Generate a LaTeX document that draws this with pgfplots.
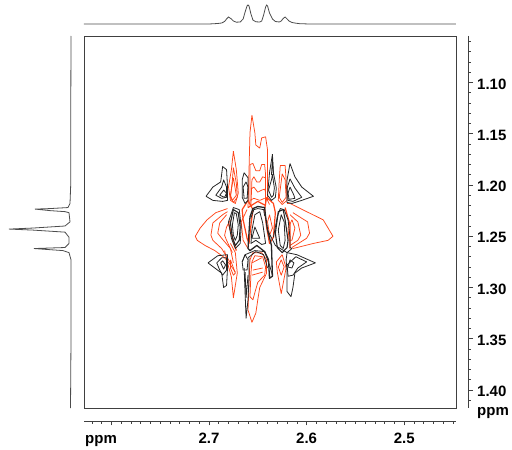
\documentclass[border=0pt]{standalone}
\usepackage{fontspec}
\setmainfont{Liberation Sans}
\usepackage{pgfplots}
\pgfplotsset{compat=1.18}
\definecolor{fr}{gray}{0.25}
\definecolor{cr}{rgb}{1,0.27,0.1}
\tikzset{cb/.style={color=black!85,line width=0.8pt,line join=round},
         crr/.style={color=cr,line width=0.75pt,line join=round}}
\newcommand{\lab}{\fontsize{15}{18}\selectfont\bfseries}
\begin{document}
\begin{tikzpicture}[x=1pt,y=1pt]
\useasboundingbox (0,0) rectangle (512,450);
% main contour axis
\begin{axis}[at={(84pt,42pt)},anchor=south west,scale only axis,width=372pt,height=372pt,
  x dir=reverse,y dir=reverse,xmin=2.447,xmax=2.828,ymin=1.0546,ymax=1.4176,
  xtick=\empty,ytick=\empty,axis line style={color=fr,line width=0.8pt},clip=true]
% red contours
\addplot[crr] coordinates {(2.660,1.222)(2.658,1.149)(2.656,1.132)(2.653,1.149)(2.652,1.161)(2.648,1.164)(2.646,1.154)(2.642,1.153)(2.640,1.166)(2.640,1.215)(2.638,1.219)};
\addplot[crr,line width=1.2pt] coordinates {(2.660,1.222)(2.650,1.216)(2.642,1.220)};
\addplot[crr] coordinates {(2.658,1.220)(2.658,1.180)(2.655,1.179)(2.652,1.186)(2.648,1.186)(2.646,1.180)(2.643,1.180)(2.642,1.190)(2.642,1.220)};
\addplot[crr] coordinates {(2.657,1.220)(2.656,1.195)(2.654,1.192)(2.651,1.197)(2.648,1.197)(2.645,1.192)(2.642,1.193)};
\addplot[crr] coordinates {(2.657,1.204)(2.654,1.202)(2.650,1.207)(2.646,1.205)(2.643,1.204)(2.642,1.207)};
\addplot[crr] coordinates {(2.658,1.215)(2.654,1.213)(2.648,1.215)(2.643,1.213)};
\addplot[crr] coordinates {(2.675,1.167)(2.672,1.185)(2.670,1.208)(2.673,1.218)(2.678,1.215)(2.680,1.202)(2.677,1.185)(2.675,1.167)};
\addplot[crr] coordinates {(2.675,1.183)(2.672,1.198)(2.671,1.212)(2.675,1.217)(2.678,1.212)(2.676,1.195)(2.675,1.183)};
\addplot[crr] coordinates {(2.675,1.193)(2.672,1.210)(2.676,1.215)(2.678,1.210)(2.675,1.193)};
\addplot[crr] coordinates {(2.627,1.181)(2.622,1.181)(2.621,1.195)(2.620,1.215)(2.625,1.219)(2.629,1.215)(2.628,1.195)(2.627,1.181)};
\addplot[crr] coordinates {(2.625,1.189)(2.622,1.195)(2.621,1.212)(2.625,1.217)(2.628,1.212)(2.625,1.189)};
\addplot[crr] coordinates {(2.678,1.257)(2.673,1.266)(2.671,1.286)(2.675,1.310)(2.677,1.290)(2.681,1.276)(2.684,1.264)};
\addplot[crr] coordinates {(2.678,1.273)(2.673,1.286)(2.675,1.288)(2.678,1.281)(2.678,1.273)};
\addplot[crr] coordinates {(2.625,1.268)(2.621,1.281)(2.626,1.306)(2.630,1.285)(2.631,1.275)(2.625,1.268)};
\addplot[crr] coordinates {(2.626,1.273)(2.623,1.280)(2.626,1.288)(2.629,1.280)(2.626,1.273)};
\addplot[crr] coordinates {(2.658,1.273)(2.655,1.266)(2.646,1.266)(2.641,1.273)(2.641,1.286)(2.648,1.300)(2.650,1.312)(2.652,1.325)(2.656,1.334)(2.660,1.322)(2.659,1.296)(2.658,1.273)};
\addplot[crr] coordinates {(2.656,1.275)(2.653,1.269)(2.645,1.270)(2.642,1.280)(2.643,1.288)(2.650,1.295)(2.653,1.305)(2.655,1.312)(2.658,1.309)(2.657,1.286)(2.656,1.275)};
\addplot[crr] coordinates {(2.655,1.283)(2.645,1.281)};
\addplot[crr] coordinates {(2.656,1.288)(2.645,1.285)};
\addplot[crr] coordinates {(2.656,1.276)(2.646,1.271)};
\addplot[crr] coordinates {(2.673,1.285)(2.678,1.278)(2.684,1.271)(2.694,1.264)(2.704,1.259)(2.712,1.254)(2.714,1.250)(2.709,1.242)(2.702,1.234)(2.693,1.227)(2.681,1.223)};
\addplot[crr] coordinates {(2.678,1.276)(2.687,1.262)(2.696,1.254)(2.698,1.249)(2.696,1.237)(2.686,1.229)(2.681,1.226)};
\addplot[crr] coordinates {(2.675,1.276)(2.678,1.262)(2.687,1.252)(2.691,1.247)(2.689,1.237)(2.682,1.229)};
\addplot[crr] coordinates {(2.676,1.266)(2.682,1.254)(2.684,1.249)(2.682,1.241)(2.678,1.234)};
\addplot[crr] coordinates {(2.620,1.218)(2.617,1.218)(2.583,1.234)(2.573,1.250)(2.578,1.254)(2.593,1.257)(2.614,1.262)};
\addplot[crr] coordinates {(2.614,1.227)(2.599,1.236)(2.597,1.247)(2.600,1.252)(2.615,1.261)};
\addplot[crr] coordinates {(2.617,1.229)(2.609,1.236)(2.606,1.249)(2.609,1.254)(2.617,1.259)};
\addplot[crr] coordinates {(2.615,1.234)(2.612,1.242)(2.615,1.254)(2.618,1.254)(2.619,1.242)(2.615,1.234)};
\addplot[crr,line width=1.2pt] coordinates {(2.666,1.224)(2.665,1.234)(2.661,1.252)(2.659,1.257)(2.657,1.239)(2.655,1.224)(2.660,1.215)(2.666,1.224)};
\addplot[crr] coordinates {(2.661,1.224)(2.667,1.236)(2.665,1.254)(2.660,1.262)};
\addplot[crr,line width=1.2pt] coordinates {(2.680,1.237)(2.676,1.252)(2.672,1.264)};
\addplot[crr,line width=1.2pt] coordinates {(2.641,1.212)(2.634,1.218)(2.632,1.227)(2.634,1.251)(2.638,1.257)(2.641,1.241)(2.643,1.224)(2.641,1.212)};
\addplot[crr] coordinates {(2.638,1.229)(2.635,1.242)(2.638,1.249)(2.640,1.236)(2.638,1.229)};
\addplot[crr,line width=1.2pt] coordinates {(2.622,1.222)(2.617,1.239)(2.617,1.262)};
% black contours
\addplot[cb] coordinates {(2.703,1.211)(2.696,1.202)(2.688,1.197)(2.686,1.182)(2.682,1.185)(2.681,1.202)(2.681,1.215)(2.686,1.216)(2.696,1.215)(2.703,1.211)};
\addplot[cb] coordinates {(2.693,1.210)(2.687,1.202)(2.685,1.195)(2.682,1.202)(2.682,1.212)(2.687,1.213)(2.693,1.210)};
\addplot[cb] coordinates {(2.689,1.210)(2.685,1.205)(2.682,1.208)(2.684,1.212)(2.689,1.210)};
\addplot[cb] coordinates {(2.617,1.179)(2.612,1.192)(2.605,1.202)(2.593,1.211)(2.605,1.215)(2.615,1.218)(2.620,1.217)(2.620,1.195)(2.617,1.179)};
\addplot[cb] coordinates {(2.617,1.194)(2.612,1.203)(2.605,1.212)(2.614,1.216)(2.619,1.215)(2.620,1.203)(2.617,1.194)};
\addplot[cb] coordinates {(2.617,1.202)(2.613,1.210)(2.612,1.213)(2.618,1.214)(2.619,1.208)(2.617,1.202)};
\addplot[cb] coordinates {(2.664,1.188)(2.660,1.193)(2.660,1.215)(2.663,1.218)(2.666,1.212)(2.666,1.195)(2.664,1.188)};
\addplot[cb] coordinates {(2.662,1.197)(2.660,1.202)(2.661,1.213)(2.664,1.213)(2.665,1.202)(2.662,1.197)};
\addplot[cb] coordinates {(2.635,1.170)(2.634,1.188)(2.631,1.203)(2.632,1.212)(2.636,1.215)(2.640,1.210)(2.638,1.188)(2.635,1.170)};
\addplot[cb] coordinates {(2.635,1.190)(2.633,1.203)(2.634,1.210)(2.636,1.212)(2.639,1.205)(2.636,1.195)(2.635,1.190)};
\addplot[cb] coordinates {(2.635,1.175)(2.634,1.190)(2.636,1.190)(2.635,1.175)};
\addplot[cb,line width=1.1pt] coordinates {(2.678,1.237)(2.676,1.251)(2.673,1.259)(2.669,1.254)(2.668,1.241)(2.670,1.227)(2.675,1.224)(2.678,1.237)};
\addplot[cb] coordinates {(2.676,1.239)(2.675,1.249)(2.673,1.254)(2.671,1.249)(2.670,1.239)(2.672,1.228)(2.674,1.227)(2.676,1.239)};
\addplot[cb] coordinates {(2.680,1.236)(2.677,1.252)(2.673,1.262)(2.668,1.257)(2.667,1.241)(2.669,1.224)(2.675,1.222)(2.680,1.236)};
\addplot[cb,line width=1.1pt] coordinates {(2.632,1.247)(2.630,1.261)(2.625,1.266)(2.620,1.261)(2.619,1.254)(2.622,1.234)(2.624,1.224)(2.629,1.226)(2.632,1.247)};
\addplot[cb] coordinates {(2.629,1.244)(2.627,1.259)(2.624,1.262)(2.622,1.254)(2.623,1.236)(2.626,1.229)(2.629,1.244)};
\addplot[cb] coordinates {(2.634,1.251)(2.630,1.231)(2.627,1.223)(2.623,1.224)(2.619,1.234)(2.617,1.251)(2.617,1.261)(2.615,1.262)(2.620,1.266)(2.632,1.259)(2.640,1.244)};
\addplot[cb,line width=1.3pt] coordinates {(2.660,1.262)(2.658,1.231)(2.655,1.223)(2.650,1.221)(2.643,1.222)(2.642,1.231)(2.640,1.244)(2.636,1.259)(2.635,1.289)(2.638,1.291)(2.639,1.273)(2.643,1.265)(2.651,1.259)(2.658,1.264)(2.660,1.262)};
\addplot[cb] coordinates {(2.656,1.244)(2.653,1.229)(2.648,1.226)(2.645,1.237)(2.642,1.257)(2.646,1.258)(2.652,1.254)(2.657,1.257)(2.656,1.244)};
\addplot[cb] coordinates {(2.656,1.252)(2.653,1.241)(2.648,1.252)(2.656,1.252)};
\addplot[cb] coordinates {(2.657,1.232)(2.654,1.224)(2.650,1.223)(2.644,1.224)(2.643,1.230)};
\addplot[cb] coordinates {(2.666,1.275)(2.663,1.268)(2.653,1.264)(2.643,1.265)(2.638,1.278)(2.635,1.288)};
\addplot[cb] coordinates {(2.660,1.271)(2.652,1.265)(2.644,1.268)(2.640,1.281)};
\addplot[cb] coordinates {(2.666,1.275)(2.665,1.283)(2.661,1.283)(2.660,1.273)(2.663,1.268)(2.666,1.275)};
\addplot[cb] coordinates {(2.664,1.281)(2.662,1.330)(2.660,1.312)(2.659,1.290)(2.659,1.271)};
\addplot[cb] coordinates {(2.663,1.285)(2.662,1.310)(2.660,1.288)};
\addplot[cb] coordinates {(2.701,1.276)(2.691,1.269)(2.681,1.268)(2.681,1.281)(2.682,1.298)(2.685,1.300)(2.687,1.286)(2.694,1.281)(2.701,1.276)};
\addplot[cb] coordinates {(2.692,1.276)(2.687,1.271)(2.682,1.271)(2.682,1.283)(2.686,1.288)(2.689,1.283)(2.692,1.276)};
\addplot[cb] coordinates {(2.688,1.276)(2.686,1.274)(2.683,1.278)(2.685,1.282)(2.688,1.276)};
\addplot[cb] coordinates {(2.620,1.266)(2.610,1.268)(2.591,1.276)(2.605,1.281)(2.612,1.286)(2.614,1.300)(2.616,1.309)(2.620,1.304)(2.620,1.285)(2.621,1.273)(2.620,1.266)};
\addplot[cb] coordinates {(2.611,1.270)(2.600,1.275)(2.609,1.281)(2.614,1.288)(2.619,1.289)(2.620,1.278)(2.611,1.270)};
\addplot[cb] coordinates {(2.617,1.273)(2.613,1.276)(2.615,1.281)(2.619,1.280)(2.617,1.273)};
\end{axis}
% top projection
\begin{axis}[at={(84pt,420pt)},anchor=south west,scale only axis,width=372pt,height=30pt,
  x dir=reverse,xmin=2.447,xmax=2.828,ymin=-6,ymax=24,hide axis,clip=false]
\addplot[color=black!70,line width=0.8pt] coordinates {(2.828,0)(2.70,0)(2.691,0.5)(2.687,1)(2.684,2.5)(2.682,5)(2.680,7)(2.677,5)(2.675,3)(2.672,1.8)(2.668,2)(2.665,5)(2.663,12)(2.661,18)(2.660,19)(2.659,18)(2.657,10)(2.655,4)(2.652,2.2)(2.648,2)(2.646,3)(2.644,9)(2.642,17)(2.641,19)(2.640,18)(2.638,11)(2.635,5)(2.632,2.5)(2.628,2)(2.626,3)(2.624,5.5)(2.622,7)(2.620,5)(2.618,3)(2.615,1.5)(2.611,0.8)(2.607,0.3)(2.597,0)(2.447,0)};
\end{axis}
% left projection
\begin{axis}[at={(0pt,42pt)},anchor=south west,scale only axis,width=84pt,height=372pt,
  x dir=reverse,y dir=reverse,xmin=-13,xmax=71,ymin=1.0546,ymax=1.4176,hide axis,clip=false]
\addplot[color=black!70,line width=0.8pt] coordinates {(0,1.0546)(0.3,1.15)(0.3,1.20)(1,1.218)(3,1.222)(21,1.223)(36,1.2235)(21,1.225)(6,1.226)(2,1.227)(1,1.236)(6,1.240)(38,1.242)(62,1.243)(38,1.244)(6,1.246)(2,1.251)(2,1.257)(6,1.261)(37,1.262)(8,1.264)(2,1.266)(0,1.273)(0,1.35)(0.5,1.4176)};
\end{axis}
% right ruler
\begin{axis}[at={(458pt,42pt)},anchor=south west,scale only axis,width=10pt,height=372pt,
  y dir=reverse,xmin=0,xmax=1,ymin=1.0546,ymax=1.4176,
  axis y line=right,hide x axis,axis line style={color=fr,line width=0.8pt,-},
  tick align=outside,
  ytick={1.10,1.15,1.20,1.25,1.30,1.35,1.40},
  minor ytick={1.06,1.07,1.08,1.09,1.11,1.12,1.13,1.14,1.16,1.17,1.18,1.19,1.21,1.22,1.23,1.24,1.26,1.27,1.28,1.29,1.31,1.32,1.33,1.34,1.36,1.37,1.38,1.39,1.41},
  major tick length=5pt,minor tick length=2.5pt,
  every tick/.style={color=fr,line width=0.6pt},
  yticklabels={1.10,1.15,1.20,1.25,1.30,1.35,1.40},
  yticklabel style={font=\lab,text=black,inner sep=0pt,anchor=west,xshift=4pt,yshift=-1.5pt}]
\end{axis}
% bottom ruler
\begin{axis}[at={(84pt,28.5pt)},anchor=south west,scale only axis,width=372pt,height=10pt,
  x dir=reverse,xmin=2.447,xmax=2.828,ymin=0,ymax=1,
  axis x line=bottom,hide y axis,axis line style={color=fr,line width=0.8pt,-},
  tick align=outside,
  xtick={2.8,2.7,2.6,2.5},
  minor xtick={2.82,2.81,2.79,2.78,2.77,2.76,2.75,2.74,2.73,2.72,2.71,2.69,2.68,2.67,2.66,2.65,2.64,2.63,2.62,2.61,2.59,2.58,2.57,2.56,2.55,2.54,2.53,2.52,2.51,2.49,2.48,2.47,2.46,2.45},
  major tick length=4pt,minor tick length=2.5pt,
  every tick/.style={color=fr,line width=0.6pt},
  xticklabels={,2.7,2.6,2.5},
  xticklabel style={font=\lab,text=black,inner sep=0pt,anchor=base,yshift=-18.5pt}]
\end{axis}
\node[font=\lab,anchor=base west,inner sep=0pt] at (85,6.5) {ppm};
\node[font=\lab,anchor=base west,inner sep=0pt] at (477,34) {ppm};
\end{tikzpicture}
\end{document}
